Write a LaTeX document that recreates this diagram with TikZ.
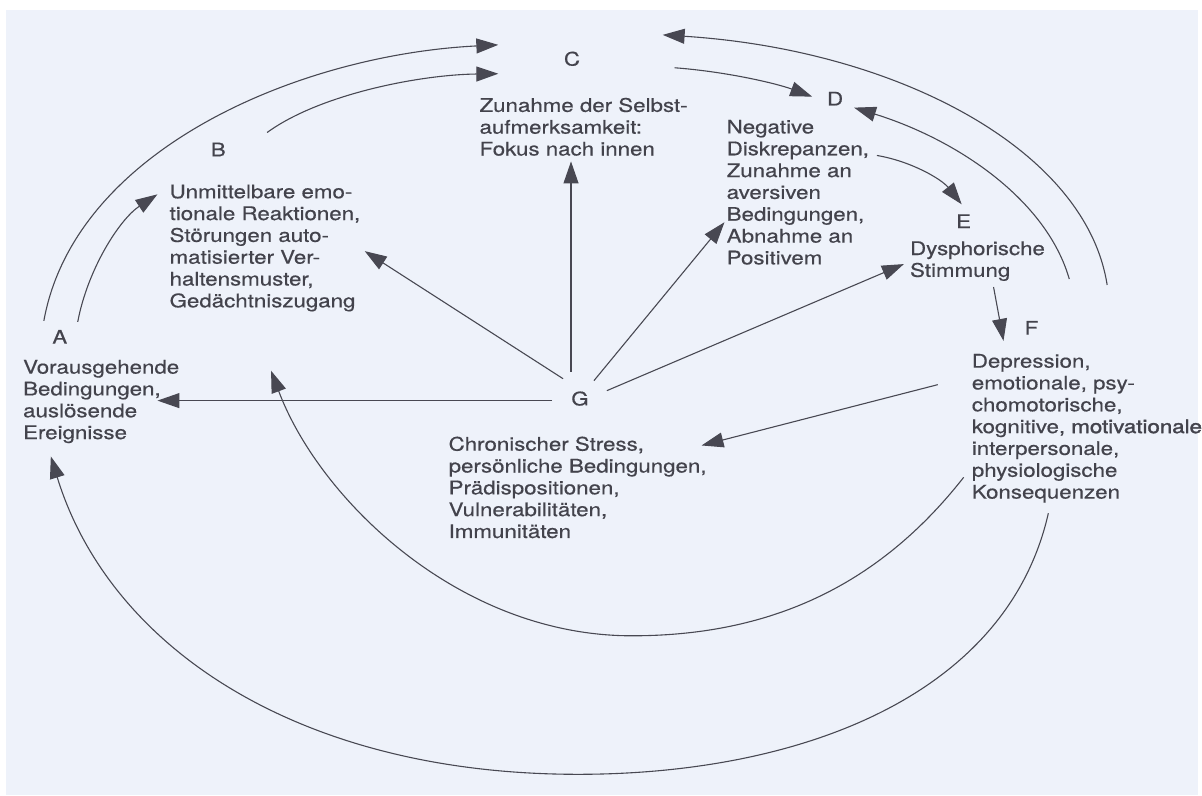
\documentclass[tikz,border=0pt]{standalone}
\usepackage{fontspec}
\setmainfont{TeX Gyre Heros}[FakeBold=0.45]
\newfontfamily\heavier{TeX Gyre Heros}[FakeBold=1.6]
\usetikzlibrary{arrows.meta}

\definecolor{paper}{HTML}{EEF2FA}
\definecolor{ink}{HTML}{43434C}
\definecolor{wire}{HTML}{484852}

\tikzset{
  lettertag/.style={inner sep=0pt, text=ink,
    font=\fontsize{18.8}{21.9}\selectfont, xscale=1.19, transform shape},
  textblock/.style={anchor=north west, inner sep=0pt, align=left, text=ink,
    font=\fontsize{18.8}{21.9}\selectfont, xscale=1.19, transform shape},
  link/.style={draw=wire, line width=1.1pt,
    -{Triangle[length=22pt,width=15pt]}, color=wire},
}

\begin{document}
\begin{tikzpicture}[x=1pt,y=-1pt]
  % sheet
  \fill[white] (0,0) rectangle (1202,798);
  \fill[paper] (6,10) rectangle (1202,798);

  % stage letters
  \node[lettertag] (A) at (60,338) {A};
  \node[lettertag] (B) at (219,150) {B};
  \node[lettertag] (C) at (574,59) {C};
  \node[lettertag] (D) at (838,99) {D};
  \node[lettertag] (E) at (967,222) {E};
  \node[lettertag] (F) at (1035,329) {F};
  \node[lettertag] (G) at (582,400) {G};

  % stage descriptions
  \node[textblock] (Atext) at (23,361) {Vorausgehende\\Bedingungen,\\auslösende\\Ereignisse};
  \node[textblock] (Btext) at (170,185) {Unmittelbare emo-\\tionale Reaktionen,\\Störungen auto-\\matisierter Ver-\\haltensmuster,\\Gedächtniszugang};
  \node[textblock] (Ctext) at (481,98) {Zunahme der Selbst-\\aufmerksamkeit:\\Fokus nach innen};
  \node[textblock] (Dtext) at (729,120) {Negative\\Diskrepanzen,\\Zunahme an\\aversiven\\Bedingungen,\\Abnahme an\\Positivem};
  \node[textblock] (Etext) at (913,242) {Dysphorische\\Stimmung};
  \node[textblock] (Ftext) at (975,355) {Depression,\\emotionale, psy-\\chomotorische,\\kognitive, {\heavier motivationale}\\interpersonale,\\physiologische\\Konsequenzen};
  \node[textblock] (Gtext) at (450,438) {Chronischer Stress,\\persönliche Bedingungen,\\Prädispositionen,\\Vulnerabilitäten,\\Immunitäten};

  % connector ends
  \coordinate (a1) at (44,322);   \coordinate (c1) at (500,45);
  \coordinate (a2) at (78,323);   \coordinate (b1) at (158,195);
  \coordinate (b2) at (268,133);  \coordinate (c2) at (500,74);
  \coordinate (c3) at (677,68);   \coordinate (d1) at (815,97);
  \coordinate (d2) at (880,156);  \coordinate (e1) at (965,205);
  \coordinate (e2) at (997,288);  \coordinate (f1) at (1007,342);
  \coordinate (f2) at (1073,280); \coordinate (d3) at (857,108);
  \coordinate (f3) at (1111,286); \coordinate (c4) at (665,35);
  \coordinate (f4) at (941,386);  \coordinate (g0) at (704,447);
  \coordinate (f5) at (967,479);  \coordinate (b3) at (272,372);
  \coordinate (f6) at (1052,515); \coordinate (a3) at (51,458);
  \coordinate (gA) at (554,402);  \coordinate (a4) at (158,402);
  \coordinate (gB) at (565,380);  \coordinate (b4) at (366,252);
  \coordinate (gC) at (573,373);  \coordinate (c5) at (573,162);
  \coordinate (gD) at (596,382);  \coordinate (d4) at (727,223);
  \coordinate (gE) at (609,392);  \coordinate (e3) at (907,265);

  % upper sequence
  \draw[link] (a1) .. controls (75,150) and (300,55) .. (c1);
  \draw[link] (a2) .. controls (88,270) and (120,220) .. (b1);
  \draw[link] (b2) .. controls (320,95) and (420,75) .. (c2);
  \draw[link] (c3) .. controls (730,72) and (780,84) .. (d1);
  \draw[link] (d2) .. controls (915,162) and (945,180) .. (e1);
  \draw[link] (e2) -- (f1);

  % feedback from F
  \draw[link] (f2) .. controls (1050,200) and (960,140) .. (d3);
  \draw[link] (f3) .. controls (1090,150) and (900,50) .. (c4);
  \draw[link] (f4) -- (g0);
  \draw[link] (f5) .. controls (880,590) and (770,638) .. (634,638)
                   .. controls (460,638) and (320,500) .. (b3);
  \draw[link] (f6) .. controls (1010,700) and (800,777) .. (580,777)
                   .. controls (300,777) and (110,650) .. (a3);

  % influence of G
  \draw[link] (gA) -- (a4);
  \draw[link] (gB) -- (b4);
  \draw[link] (gC) -- (c5);
  \draw[link] (gD) -- (d4);
  \draw[link] (gE) -- (e3);
\end{tikzpicture}
\end{document}
